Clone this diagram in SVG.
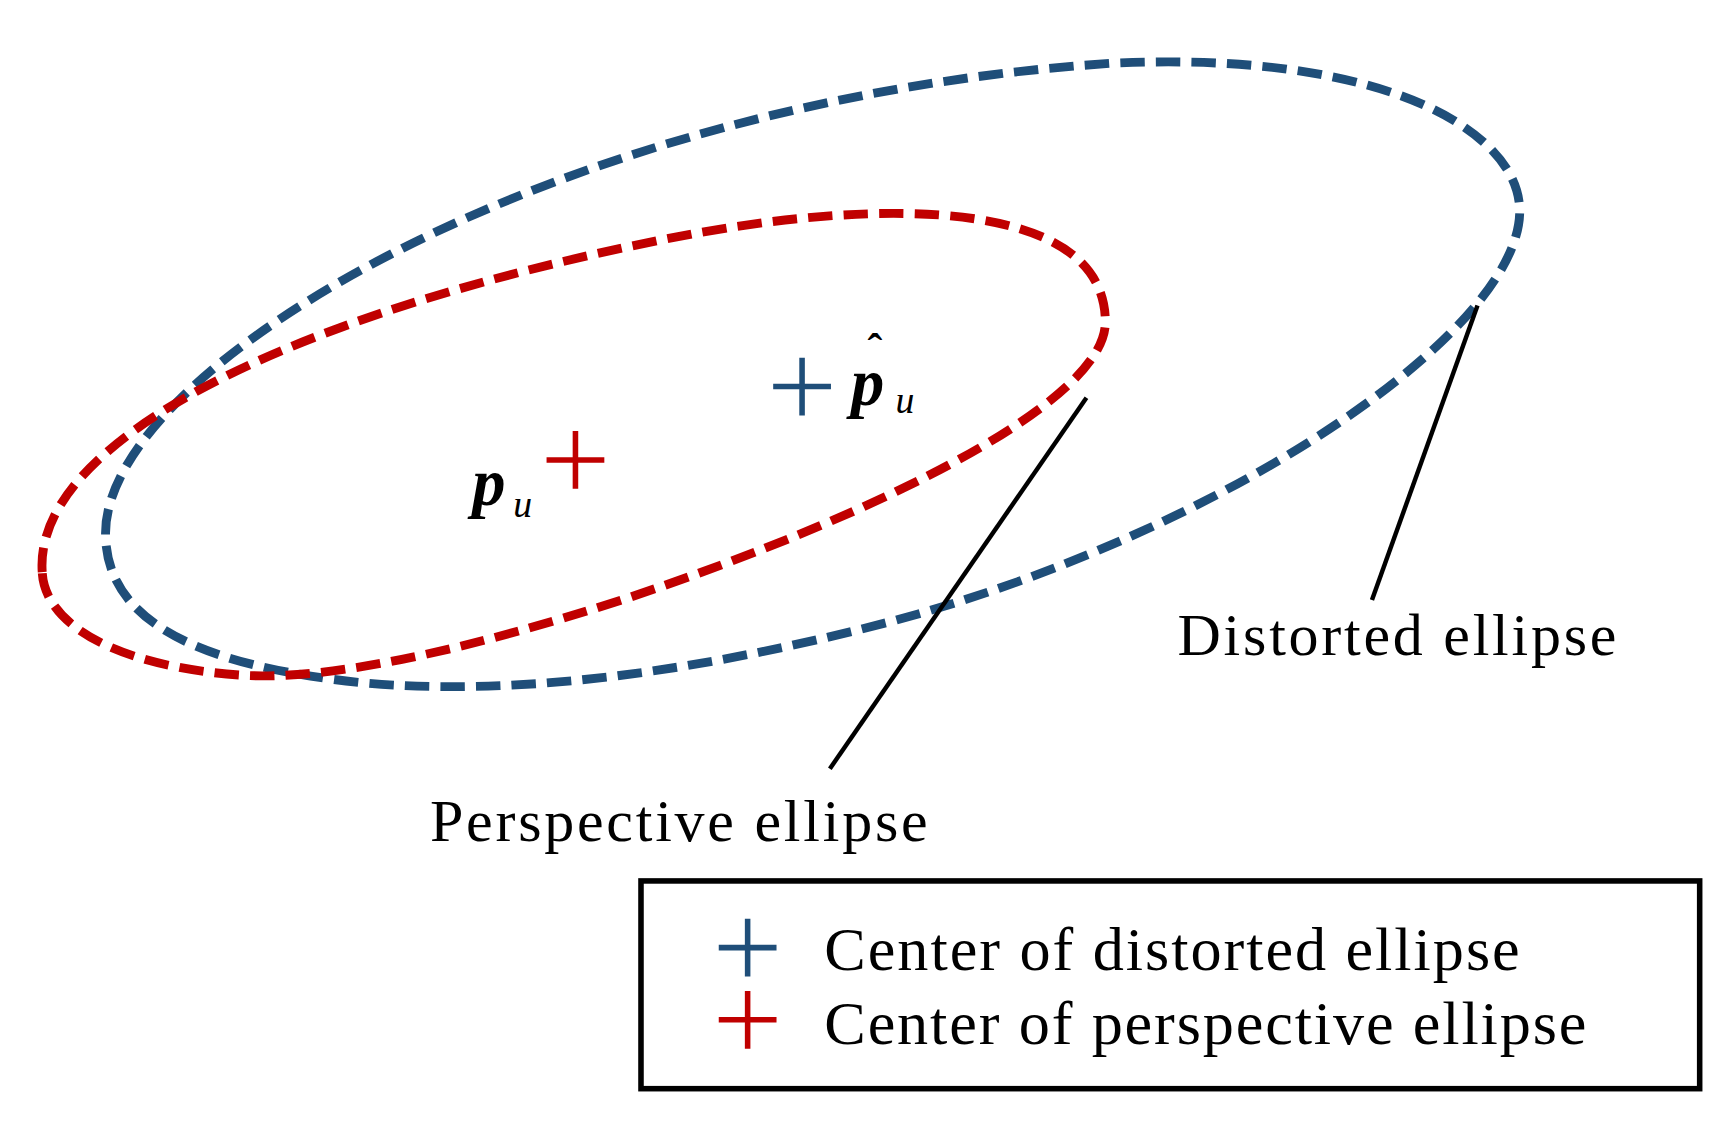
<svg xmlns="http://www.w3.org/2000/svg" width="1733" height="1131" viewBox="0 0 1733 1131">
<style>
.dash{fill:none;stroke-width:8;stroke-dasharray:22 10}
.b{stroke:#1f4e79}.r{stroke:#c00000}
.x{stroke-width:5;fill:none}
.t{font-family:"Liberation Serif",serif;fill:#000}
.lead{stroke:#000;stroke-width:4}
</style>
<rect width="1733" height="1131" fill="#fff"/>
<g transform="scale(1.1109)">
<g id="distorted-ellipse"><path class="dash b" d="M95,480 C95,330 500,90 1000,57 C1250,45 1368,120 1368,190 C1368,300 1100,480 800,560 C600,612 450,625 330,615 C180,600 95,560 95,480 Z"/></g>
<g id="perspective-ellipse"><path class="dash r" d="M38,515 C30,400 250,285 600,215 C800,175 995,180 995,290 C995,360 800,460 560,540 C420,585 300,612 220,608 C100,600 40,560 38,515 Z"/></g>
<g id="connectors"><line class="lead" x1="978" y1="358" x2="747" y2="692"/><line class="lead" x1="1330" y1="275" x2="1235" y2="540"/></g>
<g id="center-distorted"><path class="x b" d="M696,348h52M722,322v52"/>
<text class="t" x="766" y="365" font-size="60" font-weight="bold" font-style="italic">p</text>
<text class="t" x="781" y="328" font-size="40" font-weight="bold">ˆ</text>
<text class="t" x="806" y="372" font-size="34" font-style="italic">u</text></g>
<g id="center-perspective"><path class="x r" d="M492,414h52M518,388v52"/>
<text class="t" x="425" y="455" font-size="60" font-weight="bold" font-style="italic">p</text>
<text class="t" x="462" y="465" font-size="34" font-style="italic">u</text></g>
<g id="label-distorted"><text class="t" x="1060" y="590" font-size="54" textLength="395">Distorted ellipse</text></g>
<g id="label-perspective"><text class="t" x="387" y="757" font-size="54" textLength="448">Perspective ellipse</text></g>
<g id="legend"><rect x="577" y="793" width="953" height="187" fill="none" stroke="#000" stroke-width="5"/>
<path class="x b" d="M647,853h52M673,827v52"/>
<path class="x r" d="M647,918h52M673,892v52"/>
<text class="t" x="742" y="873" font-size="56" textLength="626">Center of distorted ellipse</text>
<text class="t" x="742" y="940" font-size="56" textLength="686">Center of perspective ellipse</text></g>
</g>
</svg>
